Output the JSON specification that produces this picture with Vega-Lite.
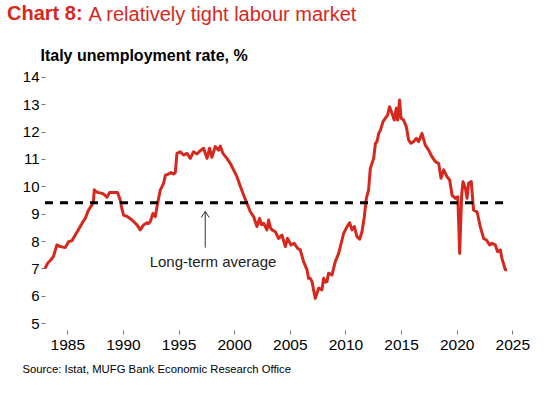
{
  "$schema": "https://vega.github.io/schema/vega-lite/v6.json",
  "width": 484,
  "height": 254,
  "autosize": {"type": "none"},
  "padding": {"left": 45, "top": 76, "right": 31, "bottom": 64},
  "background": "white",
  "config": {"view": {"stroke": null}, "font": "Liberation Sans"},
  "title": {
    "text": "Chart 8:",
    "anchor": "start",
    "frame": "group",
    "dx": -38,
    "dy": 24,
    "fontSize": 20,
    "fontWeight": "bold",
    "color": "#d7281e",
    "offset": 4
  },
  "resolve": {"axis": {"y": "independent"}},
  "datasets": {
    "rate": [
      {"t": 1983.00, "u": 7.00}, {"t": 1983.25, "u": 7.20}, {"t": 1983.50, "u": 7.30}, {"t": 1983.77, "u": 7.45},
      {"t": 1984.07, "u": 7.86}, {"t": 1984.37, "u": 7.80}, {"t": 1984.60, "u": 7.78}, {"t": 1984.82, "u": 7.77},
      {"t": 1985.12, "u": 7.98}, {"t": 1985.42, "u": 8.01}, {"t": 1985.72, "u": 8.22}, {"t": 1985.95, "u": 8.38},
      {"t": 1986.17, "u": 8.53}, {"t": 1986.40, "u": 8.70}, {"t": 1986.62, "u": 8.83}, {"t": 1986.91, "u": 9.13},
      {"t": 1987.22, "u": 9.32}, {"t": 1987.35, "u": 9.45}, {"t": 1987.43, "u": 9.87}, {"t": 1987.60, "u": 9.80},
      {"t": 1987.81, "u": 9.77}, {"t": 1988.05, "u": 9.75}, {"t": 1988.26, "u": 9.72}, {"t": 1988.57, "u": 9.60},
      {"t": 1988.80, "u": 9.77}, {"t": 1989.20, "u": 9.77}, {"t": 1989.52, "u": 9.77}, {"t": 1989.76, "u": 9.50},
      {"t": 1989.90, "u": 9.20}, {"t": 1990.06, "u": 8.95}, {"t": 1990.42, "u": 8.89}, {"t": 1990.82, "u": 8.77},
      {"t": 1991.27, "u": 8.59}, {"t": 1991.56, "u": 8.41}, {"t": 1991.86, "u": 8.59}, {"t": 1992.16, "u": 8.67},
      {"t": 1992.30, "u": 8.64}, {"t": 1992.46, "u": 8.71}, {"t": 1992.70, "u": 9.01}, {"t": 1992.91, "u": 8.89},
      {"t": 1993.12, "u": 9.38}, {"t": 1993.36, "u": 9.86}, {"t": 1993.66, "u": 10.11}, {"t": 1993.82, "u": 10.41},
      {"t": 1994.11, "u": 10.45}, {"t": 1994.32, "u": 10.50}, {"t": 1994.55, "u": 10.45}, {"t": 1994.71, "u": 10.50},
      {"t": 1994.86, "u": 11.20}, {"t": 1995.16, "u": 11.26}, {"t": 1995.45, "u": 11.14}, {"t": 1995.76, "u": 11.20},
      {"t": 1996.06, "u": 11.02}, {"t": 1996.35, "u": 11.26}, {"t": 1996.66, "u": 11.18}, {"t": 1996.96, "u": 11.30},
      {"t": 1997.25, "u": 11.39}, {"t": 1997.56, "u": 11.02}, {"t": 1997.79, "u": 11.39}, {"t": 1998.00, "u": 11.06},
      {"t": 1998.30, "u": 11.45}, {"t": 1998.60, "u": 11.32}, {"t": 1998.75, "u": 11.47}, {"t": 1998.99, "u": 11.20},
      {"t": 1999.35, "u": 11.02}, {"t": 1999.65, "u": 10.84}, {"t": 1999.95, "u": 10.60}, {"t": 2000.25, "u": 10.35},
      {"t": 2000.56, "u": 9.99}, {"t": 2000.85, "u": 9.68}, {"t": 2001.15, "u": 9.38}, {"t": 2001.45, "u": 9.07},
      {"t": 2001.75, "u": 8.89}, {"t": 2002.05, "u": 8.53}, {"t": 2002.29, "u": 8.83}, {"t": 2002.45, "u": 8.60},
      {"t": 2002.65, "u": 8.65}, {"t": 2002.95, "u": 8.41}, {"t": 2003.10, "u": 8.77}, {"t": 2003.25, "u": 8.50},
      {"t": 2003.40, "u": 8.41}, {"t": 2003.70, "u": 8.34}, {"t": 2003.99, "u": 8.10}, {"t": 2004.30, "u": 8.22},
      {"t": 2004.60, "u": 7.80}, {"t": 2004.80, "u": 8.10}, {"t": 2005.11, "u": 7.86}, {"t": 2005.40, "u": 7.92},
      {"t": 2005.70, "u": 7.74}, {"t": 2005.94, "u": 7.68}, {"t": 2006.24, "u": 7.25}, {"t": 2006.55, "u": 6.95},
      {"t": 2006.69, "u": 6.64}, {"t": 2006.84, "u": 6.64}, {"t": 2007.00, "u": 6.52}, {"t": 2007.14, "u": 6.22},
      {"t": 2007.29, "u": 5.91}, {"t": 2007.45, "u": 6.10}, {"t": 2007.59, "u": 6.28}, {"t": 2007.89, "u": 6.22},
      {"t": 2008.04, "u": 6.64}, {"t": 2008.20, "u": 6.50}, {"t": 2008.34, "u": 6.52}, {"t": 2008.49, "u": 6.83},
      {"t": 2008.79, "u": 6.76}, {"t": 2009.09, "u": 7.25}, {"t": 2009.39, "u": 7.55}, {"t": 2009.69, "u": 8.04},
      {"t": 2009.84, "u": 8.28}, {"t": 2010.15, "u": 8.53}, {"t": 2010.38, "u": 8.67}, {"t": 2010.59, "u": 8.41},
      {"t": 2010.80, "u": 8.53}, {"t": 2011.04, "u": 8.16}, {"t": 2011.28, "u": 8.07}, {"t": 2011.49, "u": 8.34},
      {"t": 2011.70, "u": 8.89}, {"t": 2011.88, "u": 9.56}, {"t": 2012.08, "u": 9.86}, {"t": 2012.24, "u": 10.66},
      {"t": 2012.54, "u": 11.02}, {"t": 2012.70, "u": 11.57}, {"t": 2012.84, "u": 11.63}, {"t": 2012.99, "u": 11.93},
      {"t": 2013.15, "u": 12.05}, {"t": 2013.38, "u": 12.36}, {"t": 2013.58, "u": 12.48}, {"t": 2013.79, "u": 12.60},
      {"t": 2013.97, "u": 12.90}, {"t": 2014.19, "u": 12.66}, {"t": 2014.39, "u": 12.42}, {"t": 2014.57, "u": 12.85},
      {"t": 2014.69, "u": 12.42}, {"t": 2014.87, "u": 13.15}, {"t": 2015.00, "u": 12.48}, {"t": 2015.23, "u": 12.42},
      {"t": 2015.47, "u": 12.18}, {"t": 2015.68, "u": 11.69}, {"t": 2015.89, "u": 11.57}, {"t": 2016.13, "u": 11.63},
      {"t": 2016.37, "u": 11.75}, {"t": 2016.58, "u": 11.63}, {"t": 2016.88, "u": 11.93}, {"t": 2017.18, "u": 11.50},
      {"t": 2017.48, "u": 11.32}, {"t": 2017.78, "u": 11.08}, {"t": 2018.08, "u": 10.90}, {"t": 2018.38, "u": 10.84},
      {"t": 2018.59, "u": 10.29}, {"t": 2018.83, "u": 10.60}, {"t": 2019.13, "u": 10.35}, {"t": 2019.37, "u": 10.23},
      {"t": 2019.58, "u": 9.68}, {"t": 2019.88, "u": 9.56}, {"t": 2020.10, "u": 9.62}, {"t": 2020.27, "u": 7.55},
      {"t": 2020.45, "u": 9.70}, {"t": 2020.57, "u": 10.17}, {"t": 2020.78, "u": 9.93}, {"t": 2020.93, "u": 9.56},
      {"t": 2021.07, "u": 10.11}, {"t": 2021.31, "u": 10.17}, {"t": 2021.52, "u": 9.13}, {"t": 2021.83, "u": 9.07},
      {"t": 2022.12, "u": 8.53}, {"t": 2022.42, "u": 8.10}, {"t": 2022.67, "u": 8.04}, {"t": 2022.96, "u": 7.86},
      {"t": 2023.17, "u": 7.92}, {"t": 2023.47, "u": 7.86}, {"t": 2023.68, "u": 7.61}, {"t": 2023.92, "u": 7.68},
      {"t": 2024.07, "u": 7.37}, {"t": 2024.37, "u": 6.95}, {"t": 2024.52, "u": 6.95}
    ],
    "avg": [{"t": 1983.0, "t2": 2024.5, "u": 9.4}],
    "note": [{"t": 1997.4, "u": 7.76, "u2": 9.08, "tx": 1998.1, "uy": 7.25, "label": "Long-term average"}]
  },
  "layer": [
    {
      "data": {"name": "rate"},
      "mark": {"type": "line", "color": "#d7281e", "strokeWidth": 3, "strokeJoin": "round"},
      "encoding": {
        "x": {
          "field": "t", "type": "quantitative",
          "scale": {"domain": [1983, 2026.5], "nice": false, "zero": false},
          "axis": {
            "values": [1985, 1990, 1995, 2000, 2005, 2010, 2015, 2020, 2025],
            "tickCount": 20,
            "format": "d", "labelFontSize": 15.5, "labelColor": "black",
            "labelOverlap": false, "labelFlush": false,
            "tickColor": "#777", "tickSize": 4, "labelPadding": 3,
            "domain": false, "grid": false,
            "title": "Source: Istat, MUFG Bank Economic Research Office",
            "titleFontSize": 11.3, "titleFontWeight": "normal", "titleColor": "black",
            "titleAlign": "left", "titleBaseline": "alphabetic", "titleX": -23, "titleY": 42
          }
        },
        "y": {
          "field": "u", "type": "quantitative",
          "scale": {"domain": [4.755, 14.026], "nice": false, "zero": false},
          "axis": {
            "orient": "left",
            "values": [5, 6, 7, 8, 9, 10, 11, 12, 13, 14],
            "tickCount": 20,
            "format": "d",
            "labelFontSize": 15, "labelColor": "black",
            "labelOverlap": false, "labelFlush": false,
            "tickColor": "#777", "tickSize": 4, "labelPadding": 2,
            "domain": false, "grid": false,
            "title": "Italy unemployment rate, %",
            "titleAngle": 0, "titleAlign": "left", "titleBaseline": "alphabetic",
            "titleX": -5, "titleY": -16, "titleFontSize": 16, "titleFontWeight": "bold", "titleColor": "black"
          }
        }
      }
    },
    {
      "data": {"name": "avg"},
      "mark": {"type": "rule", "color": "black", "strokeWidth": 3, "strokeDash": [8, 7]},
      "encoding": {
        "x": {"field": "t", "type": "quantitative"},
        "x2": {"field": "t2"},
        "y": {
          "field": "u", "type": "quantitative",
          "axis": {
            "orient": "right", "labels": false, "ticks": false, "domain": false, "grid": false,
            "title": "A relatively tight labour market",
            "titleAngle": 0, "titleAlign": "left", "titleBaseline": "alphabetic",
            "titleX": -441, "titleY": -56, "titleFontSize": 20, "titleFontWeight": "normal", "titleColor": "#d7281e"
          }
        }
      }
    },
    {
      "data": {"name": "note"},
      "mark": {"type": "rule", "color": "#333", "strokeWidth": 1},
      "encoding": {
        "x": {"field": "t", "type": "quantitative"},
        "y": {"field": "u", "type": "quantitative", "axis": null},
        "y2": {"field": "u2"}
      }
    },
    {
      "data": {"name": "note"},
      "mark": {"type": "point", "shape": "M-1,1.5L0,0L1,1.5", "size": 64, "filled": false, "color": "#333", "strokeWidth": 1, "opacity": 1},
      "encoding": {
        "x": {"field": "t", "type": "quantitative"},
        "y": {"field": "u2", "type": "quantitative", "axis": null}
      }
    },
    {
      "data": {"name": "note"},
      "mark": {"type": "text", "fontSize": 15, "color": "#222", "baseline": "middle", "align": "center"},
      "encoding": {
        "x": {"field": "tx", "type": "quantitative"},
        "y": {"field": "uy", "type": "quantitative", "axis": null},
        "text": {"field": "label"}
      }
    }
  ]
}
